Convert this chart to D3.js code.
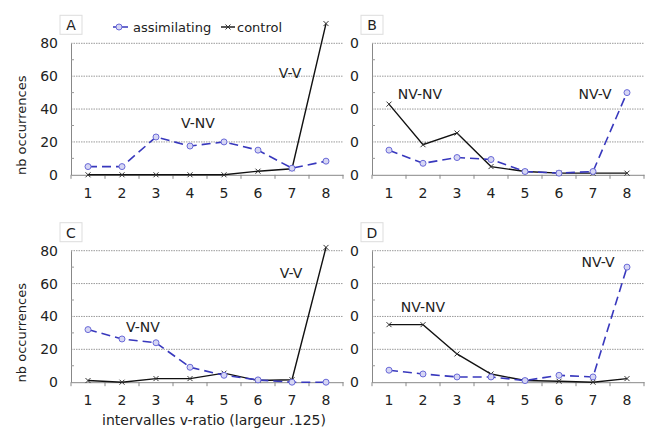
<!DOCTYPE html>
<html lang="en">
<head>
<meta charset="UTF-8">
<script src="https://d3js.org/d3.v7.min.js"></script>
<style>
body { margin: 0; background: #fff; }
text { font-family: "DejaVu Sans", Verdana, sans-serif; fill: #222; }
</style>
</head>
<body>
<svg id="chart" width="650" height="430"></svg>
<script>
// intervals 1..8
var intervals = [1, 2, 3, 4, 5, 6, 7, 8]
var yTicks = [0, 20, 40, 60, 80]

var assimA = [5, 5, 23, 17.5, 20, 15, 4, 8.3]
var controlA = [0, 0, 0, 0, 0, 2.2, 3.7, 92]
var assimB = [15, 7, 10.5, 9.3, 2, 1, 2, 50]
var controlB = [43, 18.3, 25.4, 5, 2, 1, 1, 1]
var assimC = [32, 26.3, 24, 9.1, 4.2, 1.4, 0, 0]
var controlC = [1, 0, 2.2, 2.2, 5.5, 1, 1.5, 82]
var assimD = [7.3, 5, 3.2, 3.2, 1, 4.2, 3.2, 70]
var controlD = [35, 35, 17.2, 5, 1, 0.6, 0, 2.2]

var panels = [
    {name: "A", x0: 71, y0: 43.3, assim: assimA, control: controlA,
     notes: [{t: "V-NV", x: 198, y: 128}, {t: "V-V", x: 290, y: 78}], full: true},
    {name: "B", x0: 372, y0: 43.3, assim: assimB, control: controlB,
     notes: [{t: "NV-NV", x: 420, y: 99}, {t: "NV-V", x: 595, y: 99}], full: false},
    {name: "C", x0: 71, y0: 250.7, assim: assimC, control: controlC,
     notes: [{t: "V-NV", x: 143, y: 332}, {t: "V-V", x: 291, y: 278}], full: true},
    {name: "D", x0: 372, y0: 250.7, assim: assimD, control: controlD,
     notes: [{t: "NV-NV", x: 423, y: 312}, {t: "NV-V", x: 598, y: 267}], full: false}
]

var svg = d3.select("#chart")
var pw = 272, ph = 131.5
var blue = "#3838bd"

panels.forEach(function(p) {
    var g = svg.append("g").attr("transform", `translate(${p.x0},${p.y0})`)
    var x = d3.scaleBand().domain(intervals).range([0, pw])
    var y = d3.scaleLinear().domain([0, 80]).range([ph, 0])
    var cx = d => x(d) + x.bandwidth() / 2

    // gridlines
    g.selectAll(".grid").data(yTicks.slice(1)).enter().append("line")
        .attr("x1", 0).attr("x2", pw)
        .attr("y1", d => y(d)).attr("y2", d => y(d))
        .attr("stroke", "#9a9a9a").attr("stroke-dasharray", "1.5,1")

    // y axis
    var yAxis = d3.axisLeft(y).tickValues(yTicks).tickSize(0).tickPadding(13)
        .tickFormat(d => p.full ? d : String(d).slice(-1))
    var ya = g.append("g").call(yAxis)
    ya.select(".domain").attr("stroke", "#888")
    ya.selectAll("text").style("font-size", "14px")
    g.selectAll(".minor").data([10, 30, 50, 70]).enter().append("line")
        .attr("x1", 0).attr("x2", 3)
        .attr("y1", d => y(d)).attr("y2", d => y(d))
        .attr("stroke", "#999")

    // x axis
    var xa = g.append("g").attr("transform", `translate(0,${ph})`)
        .call(d3.axisBottom(x).tickSize(0).tickPadding(13))
    xa.select(".domain").attr("stroke", "#888")
    xa.selectAll("text").style("font-size", "14px")
    g.selectAll(".xtick").data(d3.range(intervals.length + 1)).enter().append("line")
        .attr("x1", d => d * x.step()).attr("x2", d => d * x.step())
        .attr("y1", ph).attr("y2", ph + 4)
        .attr("stroke", "#888")

    // series
    var line = d3.line().x((d, i) => cx(intervals[i])).y(d => y(d))
    g.append("path").datum(p.control).attr("d", line)
        .attr("fill", "none").attr("stroke", "#111").attr("stroke-width", 1.4)
    g.append("path").datum(p.assim).attr("d", line)
        .attr("fill", "none").attr("stroke", blue).attr("stroke-width", 1.6)
        .attr("stroke-dasharray", "9,5")
    g.selectAll(".xm").data(p.control).enter().append("path")
        .attr("d", "M-2.5,-2.5L2.5,2.5M-2.5,2.5L2.5,-2.5")
        .attr("transform", (d, i) => `translate(${cx(intervals[i])},${y(d)})`)
        .attr("stroke", "#333").attr("stroke-width", 1)
    g.selectAll(".cm").data(p.assim).enter().append("circle")
        .attr("cx", (d, i) => cx(intervals[i])).attr("cy", d => y(d))
        .attr("r", 3).attr("fill", "#d6d6f4").attr("stroke", "#6a6ad8").attr("stroke-width", 1)

    // annotations
    p.notes.forEach(function(n) {
        svg.append("text").attr("x", n.x).attr("y", n.y).attr("text-anchor", "middle")
            .style("font-size", "14px").text(n.t)
    })

    // panel letter
    var lb = svg.append("g").attr("transform", `translate(${p.x0 - 11},${p.y0 - 28})`)
    lb.append("rect").attr("width", 22).attr("height", 19)
        .attr("fill", "#fff").attr("stroke", "#ddd")
    lb.append("text").attr("x", 11).attr("y", 15).attr("text-anchor", "middle")
        .style("font-size", "14px").text(p.name)

    if (p.full) {
        svg.append("text")
            .attr("transform", `translate(26,${p.y0 + 82}) rotate(-90)`)
            .attr("text-anchor", "middle").style("font-size", "13px")
            .text("nb occurrences")
    }
})

svg.append("text").attr("x", 214).attr("y", 425).attr("text-anchor", "middle")
    .style("font-size", "14px").text("intervalles v-ratio (largeur .125)")

// legend
var lg = svg.append("g").attr("transform", "translate(0,27)")
lg.append("line").attr("x1", 113).attr("x2", 129).attr("stroke", blue)
    .attr("stroke-width", 1.5).attr("stroke-dasharray", "6,3")
lg.append("circle").attr("cx", 119).attr("cy", 0).attr("r", 3)
    .attr("fill", "#d6d6f4").attr("stroke", "#6a6ad8")
lg.append("text").attr("x", 133).attr("y", 4.5).style("font-size", "13px").text("assimilating")
lg.append("line").attr("x1", 221).attr("x2", 235).attr("stroke", "#111").attr("stroke-width", 1.4)
lg.append("path").attr("d", "M-2.5,-2.5L2.5,2.5M-2.5,2.5L2.5,-2.5")
    .attr("transform", "translate(228,0)").attr("stroke", "#333")
lg.append("text").attr("x", 237).attr("y", 4.5).style("font-size", "13px").text("control")
</script>
</body>
</html>
